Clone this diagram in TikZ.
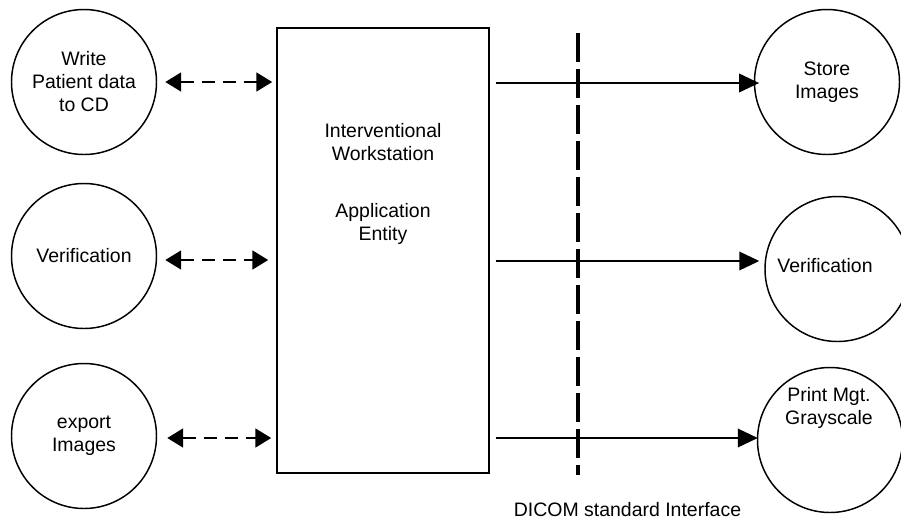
\documentclass[tikz,border=0pt]{standalone}
\usepackage{fontspec}
\setmainfont{Liberation Sans}
\usetikzlibrary{arrows.meta}
\begin{document}
\begin{tikzpicture}[x=0.75pt,y=-0.75pt,
  every node/.style={font=\fontsize{14.6}{17.25}\selectfont, align=center, inner sep=0pt},
  circ/.style={draw, circle, line width=1.1pt, minimum size=108.75pt},
  aebox/.style={draw, rectangle, line width=1.1pt, minimum width=159pt, minimum height=333.75pt},
  dbl/.style={line width=2.2pt, dash pattern=on 9.75pt off 6pt,
    {Triangle[length=12pt,width=14pt]}-{Triangle[length=12pt,width=14pt]}},
  sarrow/.style={line width=1.1pt, -{Triangle[length=15pt,width=14pt]}},
  iface/.style={line width=2.3pt, dash pattern=on 21.75pt off 5.25pt}
]
\useasboundingbox (0,0) rectangle (901,519);
\clip (0,0) rectangle (901,519);

% left circles
\node[circ] (L1) at (84,82) {Write\\Patient data\\to CD};
\node[circ] (L2) at (84,256) {Verification};
\node[circ] (L3) at (84,436) {export\\Images};

% application entity box
\node[aebox] (ae) at (383,250.5) {};
\node (aetext) at (383,184) {Interventional\\Workstation\\[26pt]Application\\Entity};

% right circles
\node[circ] (R1) at (827,82) {Store\\Images};
\node[circ] (R2) at (837.5,269) {};
\node (R2t) at (825,266) {Verification};
\node[circ] (R3) at (830,440) {};
\node (R3t) at (829,408) {Print Mgt.\\Grayscale};

% dashed bidirectional arrows
\draw[dbl] ([xshift=6pt]L1.east |- 0,82) -- ([xshift=-3pt]ae.west |- 0,82);
\draw[dbl] ([xshift=6pt]L2.east |- 0,260) -- ([xshift=-6pt]ae.west |- 0,260);
\draw[dbl] ([xshift=7.5pt]L3.east |- 0,438) -- ([xshift=-3.75pt]ae.west |- 0,438);

% solid arrows
\draw[sarrow] ([xshift=4.5pt]ae.east |- 0,83) -- ([xshift=4pt]R1.west |- 0,83);
\draw[sarrow] ([xshift=4.5pt]ae.east |- 0,261) -- ([xshift=-3.75pt]R2.west |- 0,261);
\draw[sarrow] ([xshift=4.5pt]ae.east |- 0,438) -- ([xshift=0.75pt]R3.west |- 0,438);

% DICOM interface line
\coordinate (dtop) at (578,33);
\coordinate (dbot) at (578,475);
\draw[iface] (dtop) -- (dbot);
\node[anchor=base] (dicom) at (627.5,516) {DICOM standard Interface};
\end{tikzpicture}
\end{document}
